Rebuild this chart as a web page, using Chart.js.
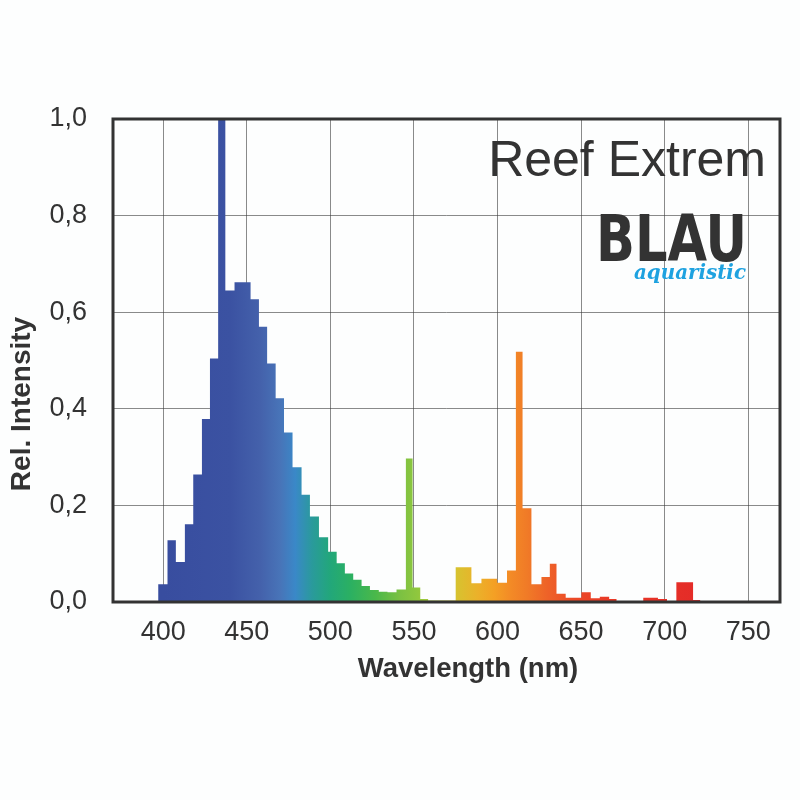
<!DOCTYPE html>
<html>
<head>
<meta charset="utf-8">
<script src="https://cdn.jsdelivr.net/npm/chart.js@4.4.1/dist/chart.umd.min.js"></script>
<style>
    html, body { margin: 0; padding: 0; background: #fdfefe; }
    #wrap { width: 800px; height: 800px; position: relative; }
</style>
</head>
<body>
<div id="wrap"><canvas id="spectrumChart"></canvas></div>
<script>
(function () {
    'use strict';

    // start of each bin (nm) and its relative intensity; last point closes the curve
    const wavelengths = [
        397.0, 402.6, 407.6, 413.0, 418.0, 423.2, 428.0, 432.9, 437.2, 442.7,
        452.3, 457.3, 462.2, 467.3, 472.3, 477.4, 482.8, 487.8, 493.2, 498.7,
        503.8, 508.7, 513.7, 518.7, 523.7, 529.0, 534.2, 539.6, 545.2, 549.2,
        553.8, 558.5, 575.0, 584.4, 590.4, 599.8, 605.7, 611.0, 615.0, 620.3,
        626.3, 631.3, 635.3, 640.8, 650.2, 655.8, 661.2, 666.8, 671.2, 687.2,
        696.0, 701.4, 707.0, 717.0, 721.4
    ];
    const intensity = [
        0.037, 0.128, 0.083, 0.161, 0.264, 0.379, 0.504, 1.000, 0.645, 0.662,
        0.627, 0.570, 0.494, 0.422, 0.351, 0.279, 0.222, 0.177, 0.134, 0.104,
        0.080, 0.059, 0.046, 0.033, 0.025, 0.021, 0.020, 0.026, 0.297, 0.030,
        0.006, 0.003, 0.072, 0.039, 0.048, 0.040, 0.065, 0.518, 0.194, 0.037,
        0.052, 0.079, 0.017, 0.009, 0.020, 0.008, 0.011, 0.006, 0.000, 0.009,
        0.006, 0.000, 0.041, 0.004, 0.000
    ];

    const xTicks = [400, 450, 500, 550, 600, 650, 700, 750];
    const yTicks = [0, 0.2, 0.4, 0.6, 0.8, 1.0];
    const yTickLabels = ['0,0', '0,2', '0,4', '0,6', '0,8', '1,0'];

    const xTitle = 'Wavelength (nm)';
    const yTitle = 'Rel. Intensity';
    const productName = 'Reef Extrem';
    const brandName = 'BLAU';
    const brandTag = 'aquaristic';

    // colour of the light along the wavelength axis
    const colourStopsNm = [400, 440, 458, 470, 479, 489, 500, 512, 527, 542, 552, 563, 576, 588, 598, 608, 618, 630, 645, 665, 720];
    const colourStops = [
        '#384d9f', '#3b52a2', '#4461ab', '#4874b8', '#3a88c8', '#2a9a9c', '#22a77a', '#2bb062',
        '#4ab84a', '#7cc142', '#8fc73e', '#b0c93a', '#d8c22f', '#ebb12a', '#f4a024', '#f38a26',
        '#f07a27', '#ee6228', '#ec4a27', '#e93a26', '#e42b28'
    ];

    const FONT = "'Liberation Sans', Arial, sans-serif";
    const TEXT = '#333333';

    let gradientCache = null;
    function spectrumFill(context) {
        const chart = context.chart;
        const area = chart.chartArea;
        if (!area) return null;
        const key = area.left + ':' + area.right;
        if (gradientCache && gradientCache.key === key) return gradientCache.grad;

        const x = chart.scales.x;
        const first = colourStopsNm[0];
        const last = colourStopsNm[colourStopsNm.length - 1];
        const grad = chart.ctx.createLinearGradient(x.getPixelForValue(first), 0, x.getPixelForValue(last), 0);
        colourStopsNm.forEach((nm, i) => {
            grad.addColorStop((nm - first) / (last - first), colourStops[i]);
        });
        gradientCache = { key: key, grad: grad };
        return grad;
    }

    const framePlugin = {
        id: 'frame',
        afterDraw(chart) {
            const { ctx, chartArea: a } = chart;
            ctx.save();
            ctx.strokeStyle = '#333333';
            ctx.lineWidth = 3;
            ctx.strokeRect(a.left, a.top, a.right - a.left, a.bottom - a.top);
            ctx.restore();
        }
    };

    // axis titles sit off-centre in the original, so they are placed by hand
    const textPlugin = {
        id: 'texts',
        afterDraw(chart) {
            const ctx = chart.ctx;
            ctx.save();
            ctx.fillStyle = TEXT;
            ctx.textBaseline = 'middle';
            ctx.textAlign = 'center';
            ctx.font = 'bold 27.5px ' + FONT;
            ctx.fillText(xTitle, 468, 669);

            ctx.save();
            ctx.translate(22, 404);
            ctx.rotate(-Math.PI / 2);
            ctx.font = 'bold 28px ' + FONT;
            ctx.fillText(yTitle, 0, 0);
            ctx.restore();

            ctx.textAlign = 'right';
            ctx.textBaseline = 'alphabetic';
            ctx.font = '50px ' + FONT;
            ctx.fillText(productName, 766, 176, 280);

            ctx.font = "bold 64px 'DejaVu Sans', sans-serif";
            ctx.fillText(brandName, 747, 261, 151);

            ctx.fillStyle = '#1ea2e0';
            ctx.font = "italic bold 21px 'DejaVu Serif', serif";
            ctx.fillText(brandTag, 746, 279, 112);
            ctx.restore();
        }
    };

    const canvas = document.getElementById('spectrumChart');
    new Chart(canvas.getContext('2d'), {
        type: 'line',
        data: {
            datasets: [{
                label: productName,
                data: wavelengths.map((nm, i) => ({ x: nm, y: intensity[i] })),
                stepped: 'before',
                fill: 'origin',
                backgroundColor: spectrumFill,
                borderWidth: 0,
                pointRadius: 0
            }]
        },
        options: {
            responsive: true,
            maintainAspectRatio: false,
            animation: false,
            layout: { padding: { top: 119, right: 20, bottom: 98, left: 0 } },
            plugins: {
                legend: { display: false },
                tooltip: { enabled: false }
            },
            scales: {
                x: {
                    type: 'linear',
                    min: 370,
                    max: 769,
                    z: 1,
                    afterBuildTicks: s => { s.ticks = xTicks.map(v => ({ value: v })); },
                    afterFit: s => { s.height = 100; },
                    grid: { color: 'rgba(60,60,60,0.6)', lineWidth: 1, drawTicks: false },
                    border: { display: false },
                    ticks: {
                        color: TEXT,
                        padding: 14,
                        maxRotation: 0,
                        font: { family: FONT, size: 27 }
                    }
                },
                y: {
                    min: 0,
                    max: 1,
                    z: 1,
                    afterBuildTicks: s => { s.ticks = yTicks.map(v => ({ value: v })); },
                    afterFit: s => { s.width = 113; },
                    grid: { color: 'rgba(60,60,60,0.6)', lineWidth: 1, drawTicks: false },
                    border: { display: false },
                    ticks: {
                        color: TEXT,
                        padding: 26,
                        font: { family: FONT, size: 27 },
                        callback: (value, index) => yTickLabels[index]
                    }
                }
            }
        },
        plugins: [framePlugin, textPlugin]
    });
})();
</script>
</body>
</html>
